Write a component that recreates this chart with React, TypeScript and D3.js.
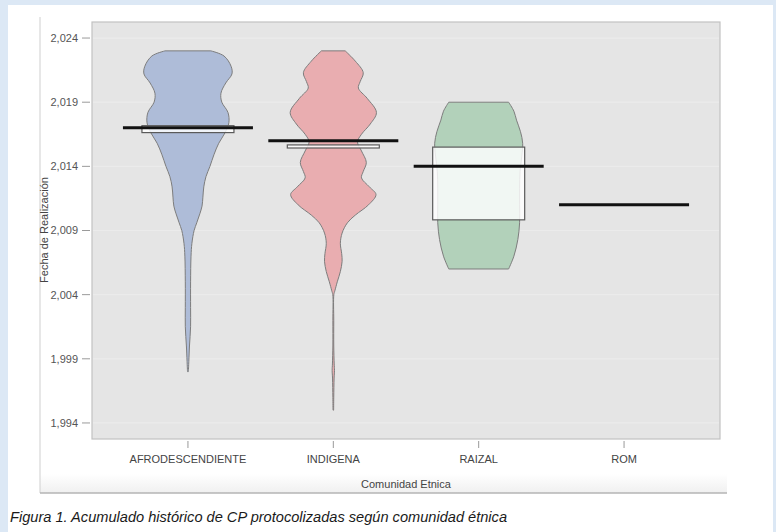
import React from "react";
import * as d3 from "d3";

// categories on the x axis
const communities = ["AFRODESCENDIENTE", "INDIGENA", "RAIZAL", "ROM"];
const yTicks = [1994, 1999, 2004, 2009, 2014, 2019, 2024];

// violin outlines: year and relative density (1 = widest)
const afroYears = [2023.0, 2022.6, 2021.8, 2021.2, 2020.5, 2019.7, 2019.0, 2018.2, 2017.4, 2016.6, 2015.8, 2014.9, 2014.0, 2013.2, 2012.4, 2011.6, 2010.9, 2010.3, 2009.6, 2009.0, 2008.0, 2007.0, 2005.0, 2003.0, 2001.5, 2000.0, 1998.8, 1998.0];
const afroDensity = [0.52, 0.82, 0.98, 1.0, 0.86, 0.75, 0.77, 0.91, 0.93, 0.84, 0.7, 0.59, 0.5, 0.41, 0.36, 0.34, 0.32, 0.27, 0.2, 0.14, 0.09, 0.07, 0.06, 0.06, 0.06, 0.035, 0.02, 0.01];

const indiYears = [2023.0, 2022.2, 2021.3, 2020.6, 2020.1, 2019.3, 2018.2, 2017.3, 2016.5, 2015.9, 2015.2, 2014.3, 2013.6, 2013.1, 2012.4, 2011.8, 2011.0, 2010.2, 2009.6, 2008.8, 2008.0, 2007.2, 2006.6, 2005.8, 2005.0, 2004.3, 2004.0, 2002.0, 2000.0, 1998.6, 1998.1, 1997.5, 1996.0, 1995.0];
const indiDensity = [0.27, 0.5, 0.68, 0.61, 0.57, 0.77, 0.98, 0.84, 0.64, 0.55, 0.64, 0.75, 0.68, 0.64, 0.82, 0.97, 0.8, 0.5, 0.32, 0.2, 0.16, 0.19, 0.2, 0.16, 0.09, 0.035, 0.012, 0.01, 0.01, 0.02, 0.027, 0.018, 0.01, 0.007];

const raizalYears = [2019.0, 2018.3, 2017.6, 2016.7, 2015.8, 2014.8, 2013.6, 2012.3, 2011.0, 2009.6, 2008.3, 2007.0, 2006.0];
const raizalDensity = [0.68, 0.8, 0.86, 0.95, 1.0, 0.98, 0.94, 0.93, 0.93, 0.93, 0.89, 0.8, 0.68];

// box (q1, q3) and centre line per community
const boxLow = [2016.63, 2015.43, 2009.83, null];
const boxHigh = [2017.17, 2015.67, 2015.5, null];
const medians = [2017.0, 2016.0, 2014.0, 2011.0];

const violinColors = ["#aebcd8", "#e9adb0", "#b2d1ba"];

const W = 776;
const H = 532;
const panel = { left: 92, right: 720, top: 22, bottom: 439 };

const App = () => {
  const y = d3.scaleLinear().domain([1992.75, 2025.25]).range([panel.bottom, panel.top]);
  const x = d3.scalePoint().domain(communities).range([panel.left, panel.right]).padding(0.66);
  const halfWidth = d3.scaleLinear().domain([0, 1]).range([0, 44]);

  const violins = [
    { years: afroYears, dens: afroDensity },
    { years: indiYears, dens: indiDensity },
    { years: raizalYears, dens: raizalDensity },
  ];

  const font = "'Liberation Sans', Arial, sans-serif";

  return (
    <svg width={W} height={H} style={{ position: "absolute", left: 0, top: 0 }} fontFamily={font}>
      <defs>
        <linearGradient id="fade" x1="0" y1="0" x2="0" y2="1">
          <stop offset="0" stopColor="#ffffff" />
          <stop offset="1" stopColor="#f0f0f0" />
        </linearGradient>
      </defs>
      <rect x={0} y={0} width={W} height={H} fill="#dce8f5" />
      <rect x={8} y={5} width={765} height={H - 5} fill="#ffffff" />

      {/* figure frame */}
      <rect x={40} y={474} width={687} height={19} fill="url(#fade)" />
      <line x1={40} x2={40} y1={17} y2={493} stroke="#cfcfcf" />
      <line x1={40} x2={727} y1={493} y2={493} stroke="#b5b5b5" strokeWidth={1.5} />

      {/* panel */}
      <rect x={panel.left} y={panel.top} width={panel.right - panel.left} height={panel.bottom - panel.top} fill="#e5e5e5" stroke="#c2c2c2" strokeWidth={1.2} />
      {yTicks.map((t) => (
        <line key={t} x1={panel.left + 1} x2={panel.right - 1} y1={y(t)} y2={y(t)} stroke="#ebebeb" strokeWidth={1.2} />
      ))}

      {/* y axis */}
      {yTicks.map((t) => (
        <g key={"yt" + t}>
          <line x1={82} x2={90} y1={y(t)} y2={y(t)} stroke="#9a9a9a" />
          <text x={78} y={y(t)} dy="0.35em" textAnchor="end" fontSize={11} fill="#555">
            {d3.format(",")(t)}
          </text>
        </g>
      ))}
      <text transform={`translate(48,230) rotate(-90)`} textAnchor="middle" fontSize={11} fill="#444">
        Fecha de Realización
      </text>

      {/* violins */}
      {violins.map((v, i) => {
        const cx = x(communities[i]) as number;
        const pts = v.years.map((yr, k) => ({ yr, d: v.dens[k] }));
        const area = d3
          .area<{ yr: number; d: number }>()
          .y((d) => y(d.yr))
          .x0((d) => cx - halfWidth(d.d))
          .x1((d) => cx + halfWidth(d.d))
          .curve(d3.curveCatmullRom);
        return <path key={"v" + i} d={area(pts) || ""} fill={violinColors[i]} stroke="#7d7d7d" strokeWidth={1} />;
      })}

      {/* boxes and centre lines */}
      {communities.map((c, i) => {
        const cx = x(c) as number;
        const lo = boxLow[i];
        const hi = boxHigh[i];
        return (
          <g key={"b" + c}>
            {lo !== null && hi !== null && (
              <rect x={cx - 46} y={y(hi)} width={92} height={y(lo) - y(hi)} fill="#ffffff" fillOpacity={0.82} stroke="#5a5a5a" strokeWidth={1.2} />
            )}
            <line x1={cx - 65} x2={cx + 65} y1={y(medians[i])} y2={y(medians[i])} stroke="#111" strokeWidth={3} />
          </g>
        );
      })}

      {/* x axis */}
      {communities.map((c) => (
        <g key={"xt" + c}>
          <line x1={x(c)} x2={x(c)} y1={441} y2={448} stroke="#9a9a9a" />
          <text x={x(c)} y={463} textAnchor="middle" fontSize={11} fill="#444">
            {c}
          </text>
        </g>
      ))}
      <text x={(panel.left + panel.right) / 2} y={488} textAnchor="middle" fontSize={11} fill="#444">
        Comunidad Etnica
      </text>

      <text x={10} y={522} fontSize={14.6} fontStyle="italic" fill="#1a1a1a">
        Figura 1. Acumulado histórico de CP protocolizadas según comunidad étnica
      </text>
    </svg>
  );
};

export default App;
